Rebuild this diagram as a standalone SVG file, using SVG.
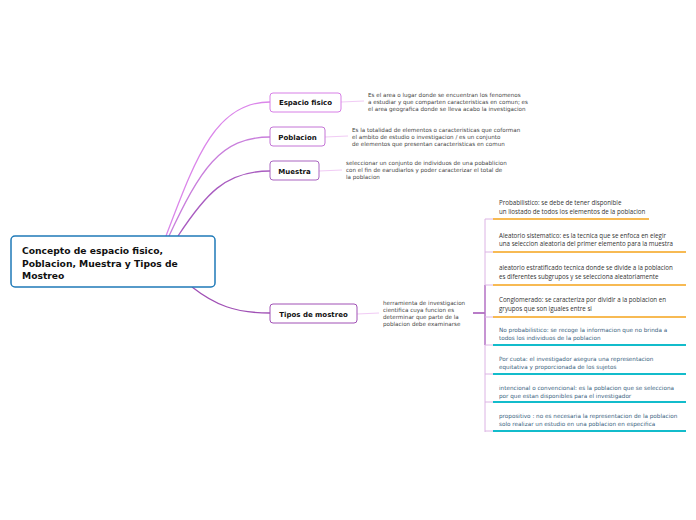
<svg xmlns="http://www.w3.org/2000/svg" width="696" height="520" viewBox="0 0 696 520">
<style>
.node rect{fill:#fff;stroke-width:1}
.lbl{font-family:"DejaVu Sans",Verdana,sans-serif;font-weight:bold;font-size:7px;fill:#111}
.desc{font-family:"DejaVu Sans",Verdana,sans-serif;font-size:5.6px;fill:#444}
.sub1{font-family:"Open Sans","Liberation Sans",sans-serif;font-size:6.2px;fill:#333}
.sub2{font-family:"DejaVu Sans",Verdana,sans-serif;font-size:5.7px;fill:#3a6380}
.orange{stroke:#f5a31a;stroke-width:1.5}
.teal{stroke:#13bccb;stroke-width:1.8}
.tick{stroke:#dcb4e4;stroke-width:1;fill:none}
.thin{stroke:#f1cbf5;stroke-width:1;fill:none}
</style>
<rect width="696" height="520" fill="#fff"/>
<g id="connectors" fill="none">
<path d="M166,236 C195,160 215,102 270,102" stroke="#db86ea" stroke-width="1.3"/>
<path d="M169,236 C200,170 220,137 270,137" stroke="#c97fdc" stroke-width="1.3"/>
<path d="M178,236 C205,195 225,171 270,171" stroke="#a95cc0" stroke-width="1.3"/>
<path d="M192,287 C215,305 235,313 270,313" stroke="#a050b5" stroke-width="1.3"/>
<path class="thin" d="M341,102 L364,101"/>
<path class="thin" d="M325,137 L348,136"/>
<path class="thin" d="M319,171 L342,170"/>
<path class="thin" d="M357,314 L379,313"/>
<path d="M473,313 L485,313" stroke="#a050b5" stroke-width="1.5"/>
<path class="tick" d="M485,219 L485,432"/>
<path d="M485,285 L485,345" stroke="#a050b5" stroke-width="1"/>
<path class="tick" d="M485,219 H493 M485,252 H493 M485,285 H493 M485,317 H493 M485,345 H493 M485,374 H493 M485,402 H493 M485,431 H493"/>
</g>
<g id="root">
<rect x="11" y="236" width="204" height="51" rx="4" fill="#fff" stroke="#1f7ab8" stroke-width="1.5"/>
<text font-family="DejaVu Sans,Verdana,sans-serif" font-weight="bold" font-size="9.2" fill="#111">
<tspan x="22" y="254">Concepto de espacio fisico,</tspan>
<tspan x="22" y="266.5">Poblacion, Muestra y Tipos de</tspan>
<tspan x="22" y="279">Mostreo</tspan>
</text>
</g>
<g id="espacio" class="node">
<rect x="270" y="93" width="71" height="19" rx="3" stroke="#d77fe6"/>
<text class="lbl" x="305.5" y="105" text-anchor="middle">Espacio fisico</text>
<text class="desc"><tspan x="368" y="97">Es el area o lugar donde se encuentran los fenomenos</tspan><tspan x="368" y="104">a estudiar y que comparten caracteristicas en comun; es</tspan><tspan x="368" y="111">el area geografica donde se lleva acabo la investigacion</tspan></text>
</g>
<g id="poblacion" class="node">
<rect x="270" y="127" width="55" height="19" rx="3" stroke="#c475d6"/>
<text class="lbl" x="297.5" y="139.5" text-anchor="middle">Poblacion</text>
<text class="desc"><tspan x="352" y="132">Es la totalidad de elementos o caracteristicas que coforman</tspan><tspan x="352" y="139">el ambito de estudio o investigacion / es un conjunto</tspan><tspan x="352" y="146">de elementos que presentan caracteristicas en comun</tspan></text>
</g>
<g id="muestra" class="node">
<rect x="270" y="161" width="49" height="19" rx="3" stroke="#a965c0"/>
<text class="lbl" x="294.5" y="173.5" text-anchor="middle">Muestra</text>
<text class="desc"><tspan x="346" y="165">seleccionar un conjunto de individuos de una pobablicion</tspan><tspan x="346" y="172">con el fin de earudiarlos y poder caracterizar el total de</tspan><tspan x="346" y="179">la poblacion</tspan></text>
</g>
<g id="tipos" class="node">
<rect x="270" y="304" width="87" height="19" rx="3" stroke="#a050b5"/>
<text class="lbl" x="313.5" y="316.5" text-anchor="middle">Tipos de mostreo</text>
<text class="desc"><tspan x="383" y="305">herramienta de investigacion</tspan><tspan x="383" y="312">cientifica cuya funcion es</tspan><tspan x="383" y="319">determinar que parte de la</tspan><tspan x="383" y="326">poblacion debe examinarse</tspan></text>
</g>
<g id="probabilistico">
<text class="sub1"><tspan x="499" y="205">Probabilistico: se debe de tener disponible</tspan><tspan x="499" y="214">un liostado de todos los elementos de la poblacion</tspan></text>
<line class="orange" x1="493" y1="219" x2="649" y2="219"/>
</g>
<g id="sistematico">
<text class="sub1"><tspan x="499" y="238">Aleatorio sistematico: es la tecnica que se enfoca en elegir</tspan><tspan x="499" y="246">una seleccion aleatoria del primer elemento para la muestra</tspan></text>
<line class="orange" x1="493" y1="252" x2="686" y2="252"/>
</g>
<g id="estratificado">
<text class="sub1"><tspan x="499" y="270">aleatorio estratificado tecnica donde se divide a la poblacion</tspan><tspan x="499" y="279">es diferentes subgrupos y se selecciona aleatoriamente</tspan></text>
<line class="orange" x1="493" y1="285" x2="686" y2="285"/>
</g>
<g id="conglomerado">
<text class="sub1"><tspan x="499" y="302">Conglomerado: se caracteriza por dividir a la poblacion en</tspan><tspan x="499" y="311">gryupos que son iguales entre si</tspan></text>
<line class="orange" x1="493" y1="317" x2="686" y2="317"/>
</g>
<g id="noprob">
<text class="sub2"><tspan x="499" y="332">No probabilistico: se recoge la informacion que no brinda a</tspan><tspan x="499" y="340">todos los individuos de la poblacion</tspan></text>
<line class="teal" x1="493" y1="345" x2="686" y2="345"/>
</g>
<g id="cuota">
<text class="sub2"><tspan x="499" y="361">Por cuota: el investigador asegura una representacion</tspan><tspan x="499" y="369">equitativa y proporcionada de los sujetos</tspan></text>
<line class="teal" x1="493" y1="374" x2="686" y2="374"/>
</g>
<g id="intencional">
<text class="sub2"><tspan x="499" y="390">intencional o convencional: es la poblacion que se selecciona</tspan><tspan x="499" y="398">por que estan disponibles para el investigador</tspan></text>
<line class="teal" x1="493" y1="402" x2="686" y2="402"/>
</g>
<g id="propositivo">
<text class="sub2"><tspan x="499" y="418">propositivo : no es necesaria la representacion de la poblacion</tspan><tspan x="499" y="426">solo realizar un estudio en una poblacion en especifica</tspan></text>
<line class="teal" x1="493" y1="431" x2="686" y2="431"/>
</g>
</svg>
